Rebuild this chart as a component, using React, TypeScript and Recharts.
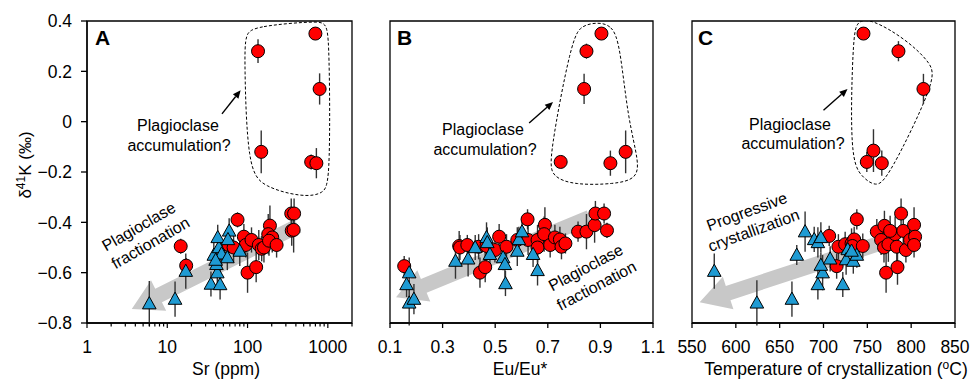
import {
  ComposedChart,
  Scatter,
  Line,
  XAxis,
  YAxis,
  ErrorBar,
  ReferenceLine,
  ReferenceArea,
} from 'recharts'

// [x, δ41K, ±err]
type Pt = [number, number, number]

const Y_TICKS = [-0.8, -0.6, -0.4, -0.2, 0, 0.2, 0.4]
const SR_TICKS = [
  1, 2, 3, 4, 5, 6, 7, 8, 9, 10, 20, 30, 40, 50, 60, 70, 80, 90, 100, 200, 300,
  400, 500, 600, 700, 800, 900, 1000, 2000,
]
const SR_LABELS = [1, 10, 100, 1000]
const EU_TICKS = [0.1, 0.3, 0.5, 0.7, 0.9, 1.1]
const T_TICKS = [550, 600, 650, 700, 750, 800, 850]

const redA: Pt[] = [
  [135, 0.28, 0.047], [700, 0.35, 0.02], [790, 0.13, 0.062], [148, -0.12, 0.085],
  [620, -0.16, 0.03], [720, -0.165, 0.06],
  [14.7, -0.495, 0.03], [17.2, -0.572, 0.03], [75, -0.39, 0.03], [100, -0.6, 0.08],
  [128, -0.578, 0.06], [58, -0.49, 0.05], [67, -0.5, 0.06], [90, -0.457, 0.05],
  [95, -0.49, 0.05], [112, -0.47, 0.05], [138, -0.49, 0.06], [150, -0.505, 0.05],
  [160, -0.5, 0.06], [190, -0.413, 0.08], [181, -0.447, 0.08], [203, -0.46, 0.06],
  [185, -0.473, 0.06], [230, -0.49, 0.05], [350, -0.365, 0.06], [380, -0.365, 0.06],
  [355, -0.433, 0.06], [375, -0.43, 0.09],
]
const blueA: Pt[] = [
  [5.97, -0.723, 0.09], [12.5, -0.705, 0.07], [17, -0.594, 0.07], [35, -0.645, 0.05],
  [45.5, -0.647, 0.06], [42, -0.6, 0.06], [41, -0.567, 0.05], [38, -0.53, 0.05],
  [44, -0.5, 0.05], [42.5, -0.46, 0.05], [47.5, -0.525, 0.05], [56, -0.54, 0.05],
  [59, -0.434, 0.05], [57, -0.468, 0.05], [80, -0.514, 0.06], [40, -0.55, 0.05],
]

const redB: Pt[] = [
  [0.904, 0.35, 0.02], [0.847, 0.28, 0.03], [0.838, 0.13, 0.06], [0.749, -0.16, 0.02],
  [0.938, -0.165, 0.05], [0.996, -0.12, 0.085],
  [0.154, -0.574, 0.04], [0.623, -0.388, 0.04], [0.442, -0.6, 0.06], [0.462, -0.578, 0.06],
  [0.363, -0.494, 0.06], [0.366, -0.5, 0.05], [0.394, -0.49, 0.04], [0.437, -0.497, 0.05],
  [0.467, -0.494, 0.06], [0.499, -0.51, 0.05], [0.515, -0.457, 0.05], [0.543, -0.497, 0.05],
  [0.584, -0.47, 0.05], [0.625, -0.47, 0.06], [0.661, -0.47, 0.06], [0.661, -0.5, 0.06],
  [0.689, -0.41, 0.07], [0.686, -0.447, 0.07], [0.709, -0.49, 0.05], [0.727, -0.46, 0.05],
  [0.746, -0.468, 0.05], [0.752, -0.497, 0.05], [0.767, -0.484, 0.04], [0.815, -0.437, 0.04],
  [0.847, -0.437, 0.07], [0.878, -0.411, 0.07], [0.881, -0.365, 0.05], [0.914, -0.365, 0.04],
  [0.925, -0.432, 0.03],
]
const blueB: Pt[] = [
  [0.173, -0.6, 0.06], [0.163, -0.647, 0.05], [0.173, -0.72, 0.09], [0.191, -0.705, 0.06],
  [0.349, -0.554, 0.07], [0.397, -0.545, 0.07], [0.424, -0.5, 0.05], [0.467, -0.46, 0.06],
  [0.47, -0.48, 0.06], [0.48, -0.527, 0.05], [0.53, -0.54, 0.05], [0.537, -0.567, 0.05],
  [0.539, -0.643, 0.05], [0.584, -0.514, 0.06], [0.59, -0.468, 0.05], [0.602, -0.437, 0.05],
  [0.644, -0.527, 0.05], [0.661, -0.591, 0.06],
]

const redC: Pt[] = [
  [745.6, 0.35, 0.02], [785.5, 0.28, 0.04], [814, 0.13, 0.06], [757, -0.115, 0.085],
  [749.4, -0.16, 0.04], [766.5, -0.165, 0.05],
  [706.5, -0.454, 0.04], [717, -0.497, 0.05], [715, -0.574, 0.05], [738, -0.388, 0.04],
  [724.7, -0.487, 0.05], [732, -0.484, 0.06], [735, -0.468, 0.05], [733, -0.494, 0.05],
  [744.8, -0.494, 0.05], [760.8, -0.437, 0.05], [769.5, -0.414, 0.06], [765.7, -0.47, 0.06],
  [769, -0.5, 0.06], [774, -0.487, 0.07], [771.4, -0.6, 0.08], [781.7, -0.447, 0.07],
  [783.6, -0.497, 0.07], [784.4, -0.578, 0.07], [788.5, -0.365, 0.06], [791, -0.434, 0.06],
  [794, -0.51, 0.05], [798.8, -0.47, 0.05], [803.3, -0.41, 0.07], [804.5, -0.457, 0.05],
  [803.3, -0.49, 0.05], [776, -0.434, 0.06],
]
const blueC: Pt[] = [
  [575.4, -0.594, 0.07], [624, -0.72, 0.09], [664, -0.705, 0.07], [669.5, -0.53, 0.04],
  [679, -0.437, 0.08], [689.4, -0.468, 0.05], [693.6, -0.48, 0.06], [697, -0.46, 0.06],
  [693.6, -0.647, 0.06], [699, -0.6, 0.07], [697, -0.57, 0.05], [707.6, -0.545, 0.05],
  [722, -0.647, 0.05], [727.7, -0.508, 0.05], [725.8, -0.548, 0.06], [734, -0.554, 0.05],
  [738, -0.53, 0.05], [732, -0.514, 0.05],
]

// dashed "accumulation" outlines (spline control points, data units)
const outlineA: [number, number][] = [
  [94, 0.347], [119, 0.379], [903, 0.403], [1044, 0.383], [1075, -0.228],
  [903, -0.288], [477, -0.3], [159, -0.26], [99.7, -0.188], [91.4, 0.251],
]
const outlineB: [number, number][] = [
  [0.89, 0.395], [0.943, 0.383], [0.974, 0.311], [1.004, 0.012], [1.049, -0.168],
  [1.034, -0.228], [0.955, -0.248], [0.803, -0.252], [0.715, -0.22], [0.704, -0.148],
  [0.791, 0.331], [0.829, 0.383],
]
const outlineC: [number, number][] = [
  [738, 0.403], [755.1, 0.407], [792.7, 0.331], [823.5, 0.231], [828, 0.163],
  [773.4, -0.228], [759.7, -0.26], [743.7, -0.22], [730, -0.148], [733.5, 0.331],
]

// trend arrows: [tail, tip]
const bandA = [{ x: 424, y: -0.414 }, { x: 3.61, y: -0.744 }]
const bandB = [{ x: 0.859, y: -0.381 }, { x: 0.123, y: -0.698 }]
const bandC = [{ x: 766.5, y: -0.481 }, { x: 558.7, y: -0.718 }]
const noteA = [{ x: 48, y: 0.031 }, { x: 82, y: 0.125 }]
const noteB = [{ x: 0.629, y: -0.005 }, { x: 0.72, y: 0.078 }]
const noteC = [{ x: 700, y: 0.045 }, { x: 727.4, y: 0.13 }]

const rows = (pts: Pt[]) => pts.map(([x, y, e]) => ({ x, y, e }))
const loop = (pts: [number, number][]) => pts.map(([x, y]) => ({ x, y }))

const RED = '#ff0000'
const BLUE = '#1f9bd3'
const FONT = '"Liberation Sans", Arial, sans-serif'
const TICK_FS = 17.5

function Dot(props: any) {
  const { cx, cy } = props
  if (cx == null || cy == null) return null
  return <circle cx={cx} cy={cy} r={6.5} fill={RED} stroke="#000" strokeWidth={1} />
}

function Tri(props: any) {
  const { cx, cy } = props
  if (cx == null || cy == null) return null
  const pts = `${cx},${cy - 7} ${cx - 6.8},${cy + 5.2} ${cx + 6.8},${cy + 5.2}`
  return <polygon points={pts} fill={BLUE} stroke="#000" strokeWidth={1} />
}

function BigArrow(props: any) {
  const { x1, y1, x2, y2 } = props
  const len = Math.hypot(x2 - x1, y2 - y1) || 1
  const ux = (x2 - x1) / len
  const uy = (y2 - y1) / len
  const nx = -uy
  const ny = ux
  const hl = 30
  const hw = 17
  const sw = 7.5
  const bx = x2 - ux * hl
  const by = y2 - uy * hl
  const p = [
    [x1 + nx * sw, y1 + ny * sw],
    [bx + nx * sw, by + ny * sw],
    [bx + nx * hw, by + ny * hw],
    [x2, y2],
    [bx - nx * hw, by - ny * hw],
    [bx - nx * sw, by - ny * sw],
    [x1 - nx * sw, y1 - ny * sw],
  ]
  return <polygon points={p.map((q) => q.join(',')).join(' ')} fill="#c8c8c8" />
}

function NoteArrow(props: any) {
  const { x1, y1, x2, y2 } = props
  const len = Math.hypot(x2 - x1, y2 - y1) || 1
  const ux = (x2 - x1) / len
  const uy = (y2 - y1) / len
  const bx = x2 - ux * 8
  const by = y2 - uy * 8
  const head = `${x2},${y2} ${bx - uy * 3.5},${by + ux * 3.5} ${bx + uy * 3.5},${by - ux * 3.5}`
  return (
    <g>
      <line x1={x1} y1={y1} x2={bx} y2={by} stroke="#000" strokeWidth={1.4} />
      <polygon points={head} fill="#000" />
    </g>
  )
}

function LogTick(props: any) {
  const { x, y, payload } = props
  const v = payload?.value
  const major = SR_LABELS.includes(v)
  return (
    <g>
      <line x1={x} x2={x} y1={y} y2={y + (major ? 5 : 3.5)} stroke="#000" strokeWidth={1.2} />
      {major && (
        <text x={x} y={y + 30} textAnchor="middle" fontSize={TICK_FS} fill="#000">
          {v}
        </text>
      )}
    </g>
  )
}

const fmtY = (v: number) => (v === 0 ? '0' : v.toFixed(1).replace('-', '\u2212'))

interface PanelProps {
  left: number
  width: number
  marginLeft: number
  marginRight: number
  yAxisWidth: number
  yLabels: boolean
  xProps: any
  xDomain: [number, number]
  red: Pt[]
  blue: Pt[]
  outline: [number, number][]
  band: { x: number; y: number }[]
  note: { x: number; y: number }[]
}

function Panel(p: PanelProps) {
  const axisStroke = { stroke: '#000', strokeWidth: 1.3 }
  return (
    <div style={{ position: 'absolute', left: p.left, top: 0 }}>
      <ComposedChart
        width={p.width}
        height={381}
        margin={{ top: 21, right: p.marginRight, bottom: 0, left: p.marginLeft }}
      >
        <XAxis
          dataKey="x"
          height={58}
          allowDataOverflow
          domain={p.xDomain}
          axisLine={axisStroke}
          {...p.xProps}
        />
        <YAxis
          dataKey="y"
          type="number"
          domain={[-0.8, 0.4]}
          allowDataOverflow
          ticks={Y_TICKS}
          width={p.yAxisWidth}
          tick={p.yLabels ? { fontSize: TICK_FS, fill: '#000' } : false}
          tickFormatter={fmtY}
          tickSize={6}
          tickMargin={9}
          axisLine={axisStroke}
          tickLine={axisStroke}
        />
        <ReferenceLine segment={p.band} shape={BigArrow} ifOverflow="visible" />
        <Line
          data={loop(p.outline)}
          dataKey="y"
          type="basisClosed"
          stroke="#000"
          strokeWidth={1}
          strokeDasharray="3 2"
          dot={false}
          activeDot={false}
          isAnimationActive={false}
        />
        <ReferenceLine segment={p.note} shape={NoteArrow} ifOverflow="visible" />
        <Scatter data={rows(p.red)} dataKey="y" shape={Dot} isAnimationActive={false}>
          <ErrorBar
            dataKey="e"
            direction="y"
            width={0}
            stroke="#333"
            strokeWidth={1.4}
            isAnimationActive={false}
          />
        </Scatter>
        <Scatter data={rows(p.blue)} dataKey="y" shape={Tri} isAnimationActive={false}>
          <ErrorBar
            dataKey="e"
            direction="y"
            width={0}
            stroke="#333"
            strokeWidth={1.4}
            isAnimationActive={false}
          />
        </Scatter>
        <ReferenceArea
          x1={p.xDomain[0]}
          x2={p.xDomain[1]}
          y1={-0.8}
          y2={0.4}
          fill="none"
          stroke="#000"
          strokeWidth={1.3}
        />
      </ComposedChart>
    </div>
  )
}

const xTickStyle = {
  tick: { fontSize: TICK_FS, fill: '#000' },
  tickLine: { stroke: '#000', strokeWidth: 1.3 },
  tickSize: 5,
  tickMargin: 12.5,
  interval: 0,
}

export default function App() {
  return (
    <div
      style={{
        position: 'absolute',
        left: 0,
        top: 0,
        width: 970,
        height: 381,
        background: '#fff',
        fontFamily: FONT,
      }}
    >
      <Panel
        left={0}
        width={360}
        marginLeft={27}
        marginRight={8}
        yAxisWidth={60}
        yLabels
        xDomain={[1, 2000]}
        xProps={{
          type: 'number',
          scale: 'log',
          ticks: SR_TICKS,
          tick: (t: any) => <LogTick {...t} />,
          tickLine: false,
          tickSize: 0,
          tickMargin: 0,
          interval: 0,
        }}
        red={redA}
        blue={blueA}
        outline={outlineA}
        band={bandA}
        note={noteA}
      />
      <Panel
        left={360}
        width={315}
        marginLeft={30}
        marginRight={22}
        yAxisWidth={0}
        yLabels={false}
        xDomain={[0.1, 1.1]}
        xProps={{
          type: 'number',
          ticks: EU_TICKS,
          tickFormatter: (v: number) => v.toFixed(1),
          ...xTickStyle,
        }}
        red={redB}
        blue={blueB}
        outline={outlineB}
        band={bandB}
        note={noteB}
      />
      <Panel
        left={660}
        width={310}
        marginLeft={32}
        marginRight={15}
        yAxisWidth={0}
        yLabels={false}
        xDomain={[550, 850]}
        xProps={{
          type: 'number',
          ticks: T_TICKS,
          ...xTickStyle,
        }}
        red={redC}
        blue={blueC}
        outline={outlineC}
        band={bandC}
        note={noteC}
      />
      <svg
        width={970}
        height={381}
        style={{ position: 'absolute', left: 0, top: 0, pointerEvents: 'none' }}
        fontFamily={FONT}
        fontSize={16}
        fill="#000"
      >
        <text transform="translate(31,165) rotate(-90)" textAnchor="middle" fontSize={17}>
          δ<tspan dy={-6.5} fontSize={12}>41</tspan>
          <tspan dy={6.5}>K (‰)</tspan>
        </text>

        <text x={95} y={45} fontSize={21} fontWeight="bold">A</text>
        <text x={397} y={45} fontSize={21} fontWeight="bold">B</text>
        <text x={698} y={45} fontSize={21} fontWeight="bold">C</text>

        <text x={178} y={131} textAnchor="middle">Plagioclase</text>
        <text x={179} y={151} textAnchor="middle">accumulation?</text>
        <text x={483} y={135} textAnchor="middle">Plagioclase</text>
        <text x={485} y={155} textAnchor="middle">accumulation?</text>
        <text x={790} y={130} textAnchor="middle">Plagioclase</text>
        <text x={793} y={149} textAnchor="middle">accumulation?</text>

        <g transform="translate(139,227) rotate(-30)">
          <text x={0} y={5} textAnchor="middle">Plagioclase</text>
          <text x={2} y={25} textAnchor="middle">fractionation</text>
        </g>
        <g transform="translate(586,268) rotate(-28)">
          <text x={0} y={5} textAnchor="middle">Plagioclase</text>
          <text x={1} y={26} textAnchor="middle">fractionation</text>
        </g>
        <g transform="translate(747,212) rotate(-20)">
          <text x={0} y={5} textAnchor="middle">Progressive</text>
          <text x={0} y={25} textAnchor="middle">crystallization</text>
        </g>

        <g fontSize={17.5}>
          <text x={226} y={375} textAnchor="middle">Sr (ppm)</text>
          <text x={520} y={375} textAnchor="middle">Eu/Eu*</text>
          <text x={836} y={375} textAnchor="middle">
            Temperature of crystallization (<tspan dy={-6.5} fontSize={12}>o</tspan>
            <tspan dy={6.5}>C)</tspan>
          </text>
        </g>
      </svg>
    </div>
  )
}
